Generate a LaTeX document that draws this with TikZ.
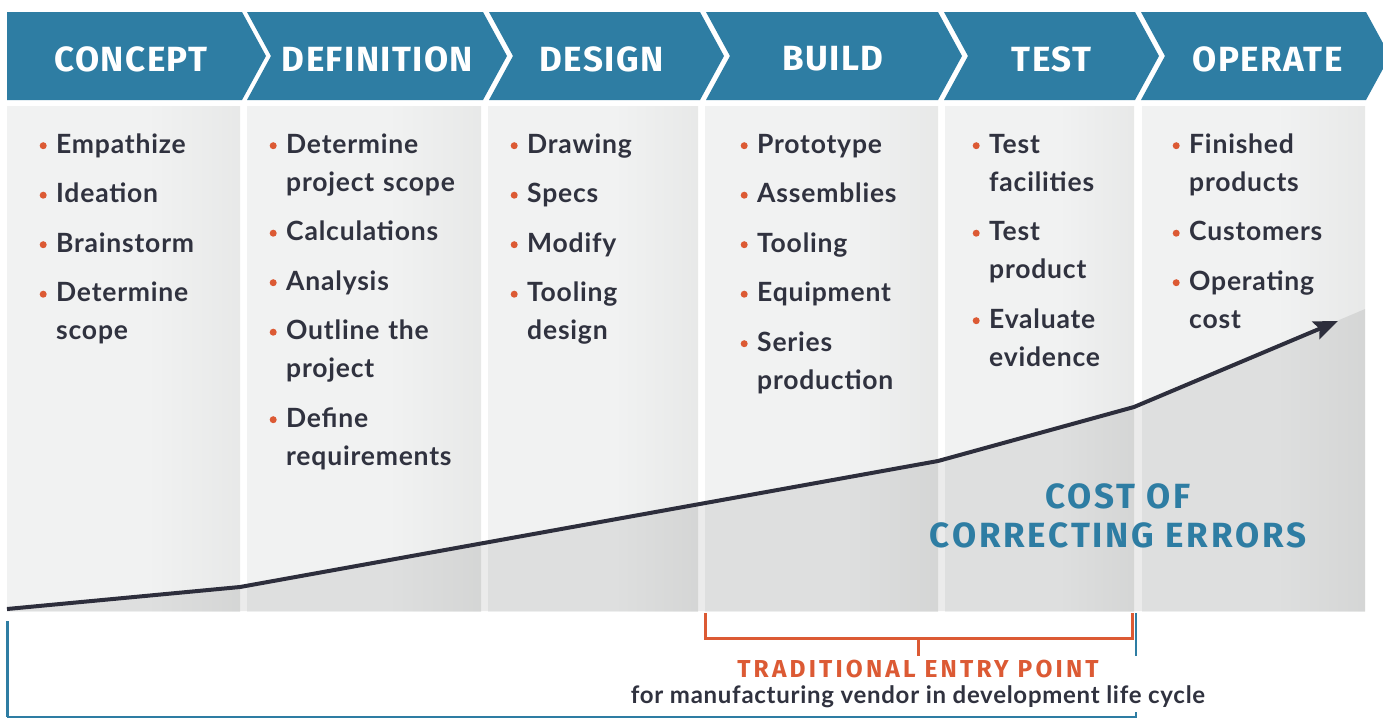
\documentclass[tikz,border=0pt]{standalone}
\usepackage{fontspec}
\setmainfont{Lato}[LetterSpace=3]
\newfontfamily\headfont[LetterSpace=4]{Fira Sans}
\newfontfamily\costfont[LetterSpace=8]{Fira Sans}
\newfontfamily\entryfont[LetterSpace=13]{Fira Sans}
\usetikzlibrary{arrows.meta}

\definecolor{hdblue}{HTML}{2E7DA3}
\definecolor{accent}{HTML}{DC5A34}
\definecolor{ink}{HTML}{30323F}
\definecolor{curveink}{HTML}{2D2E3C}
\definecolor{pLight}{HTML}{F1F2F2}
\definecolor{pDark}{HTML}{DCDDDC}
\pgfdeclarehorizontalshading{panelshade}{100bp}{color(0bp)=(pLight); color(55bp)=(pLight); color(100bp)=(pDark)}

\newcommand\bl{\leavevmode\llap{\tikz[baseline=-7.5pt]\fill[accent] (0,0) circle (3.5pt);\hspace{9.5pt}}\rule{0pt}{20pt}}
\newcommand\nx{\\[11.5pt]}

\tikzset{
  chevron/.style={fill=hdblue},
  stage/.style={text=white, inner sep=0pt, font=\headfont\bfseries\fontsize{35}{35}\selectfont},
  panel/.style={shading=panelshade},
  itemlist/.style={anchor=north west, text width=230pt, align=left, inner sep=0pt, text=ink,
    font=\bfseries\fontsize{26.5}{38}\selectfont},
  costline/.style={draw=curveink, line width=4pt, line join=round,
    -{Stealth[length=24pt,width=19pt,inset=4pt]}},
}

\begin{document}
\begin{tikzpicture}[x=1pt,y=-1pt]
\fill[white] (0,0) rectangle (1383,718);
\useasboundingbox (0,0) rectangle (1383,718);

% stage arrows
\fill[chevron] (7,12) -- (242,12) -- (266,56) -- (242,100) -- (7,100) -- cycle;
\fill[chevron] (247,12) -- (483,12) -- (507,56) -- (483,100) -- (247,100) -- (271,56) -- cycle;
\fill[chevron] (489,12) -- (700,12) -- (724,56) -- (700,100) -- (489,100) -- (513,56) -- cycle;
\fill[chevron] (706,12) -- (938,12) -- (962,56) -- (938,100) -- (706,100) -- (730,56) -- cycle;
\fill[chevron] (944,12) -- (1135,12) -- (1159,56) -- (1135,100) -- (944,100) -- (968,56) -- cycle;
\fill[chevron] (1141,12) -- (1366,12) -- (1390,56) -- (1366,100) -- (1141,100) -- (1165,56) -- cycle;
\node[stage] (concept) at (131,59) {CONCEPT};
\node[stage] (definition) at (377.5,59) {DEFINITION};
\node[stage] (design) at (601.5,59) {DESIGN};
\node[stage] (build) at (833,59) {BUILD};
\node[stage] (test) at (1051.5,59) {TEST};
\node[stage] (operate) at (1267.5,59) {OPERATE};

% columns
\fill[panel] (7,106) rectangle (240,611);
\fill[panel] (247,106) rectangle (481,611);
\fill[panel] (488,106) rectangle (698,611);
\fill[panel] (705,106) rectangle (938,611);
\fill[panel] (945,106) rectangle (1134,611);
\fill[panel] (1142,106) rectangle (1365,611);

% cost curve
\coordinate (k0) at (7,609);
\coordinate (k1) at (240,587);
\coordinate (k2) at (938,461);
\coordinate (k3) at (1134,407);
\coordinate (k4) at (1338,321);
\coordinate (k5) at (1365,309);
\fill[black,opacity=.08] (7,611) -- (k0) -- (k1) -- (k2) -- (k3) -- (k5) -- (1365,611) -- cycle;

\node[itemlist] (col1) at (56,133) {\bl Empathize\nx\bl Ideation\nx\bl Brainstorm\nx\bl Determine\\scope};
\node[itemlist] (col2) at (286,133) {\bl Determine\\project scope\nx\bl Calculations\nx\bl Analysis\nx\bl Outline the\\project\nx\bl Define\\requirements};
\node[itemlist] (col3) at (527,133) {\bl Drawing\nx\bl Specs\nx\bl Modify\nx\bl Tooling\\design};
\node[itemlist] (col4) at (757,133) {\bl Prototype\nx\bl Assemblies\nx\bl Tooling\nx\bl Equipment\nx\bl Series\\production};
\node[itemlist] (col5) at (989,133) {\bl Test\\facilities\nx\bl Test\\product\nx\bl Evaluate\\evidence};
\node[itemlist] (col6) at (1189,133) {\bl Finished\\products\nx\bl Customers\nx\bl Operating\\cost};

\draw[costline] (k0) -- (k1) -- (k2) -- (k3) -- (k4);
\node[text=hdblue, align=center, inner sep=0pt, font=\costfont\bfseries\fontsize{35}{39}\selectfont] (cost) at (1118,515.5) {COST OF\\CORRECTING ERRORS};

% entry point
\coordinate (e1) at (705,613);
\coordinate (e2) at (1132,613);
\draw[hdblue, line width=3pt] (7.5,621) -- (7.5,717);
\draw[hdblue, line width=1.5pt] (7,717) -- (1136.5,717);
\draw[hdblue, line width=2.5pt] (1136,613) -- (1136,717);
\draw[accent, line width=3pt] (e1) -- (705,638) -- (1132,638) -- (e2);
\draw[accent, line width=3pt] (918,638) -- (918,656);
\node[fill=white, anchor=north, align=center, inner sep=4pt, text=ink,
  font=\bfseries\fontsize{24}{26}\selectfont] (entry) at (918,656)
  {{\entryfont\fontsize{24.5}{26}\selectfont\color{accent}TRADITIONAL ENTRY POINT}\\for manufacturing vendor in development life cycle};
\end{tikzpicture}
\end{document}
